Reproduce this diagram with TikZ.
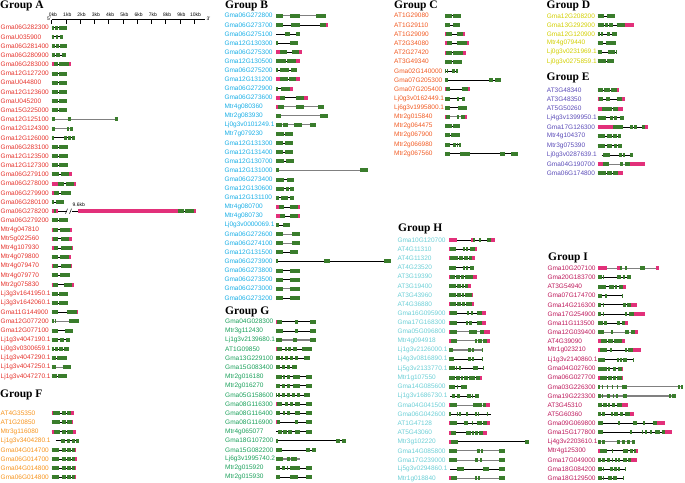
\documentclass[tikz,border=0pt]{standalone}
\usepackage{fontspec}
\setmainfont{Liberation Serif}
\setsansfont{Liberation Sans}
\definecolor{cA}{HTML}{E5322B}
\definecolor{cB}{HTML}{1AAFE6}
\definecolor{cC}{HTML}{F15A22}
\definecolor{cD}{HTML}{D2CF00}
\definecolor{cE}{HTML}{5B4CB8}
\definecolor{cF}{HTML}{F7941D}
\definecolor{cG}{HTML}{1AA05A}
\definecolor{cH}{HTML}{6CCFD6}
\definecolor{cI}{HTML}{BE1A5C}
\definecolor{exg}{HTML}{3A7D2C}
\definecolor{utr}{HTML}{E2307A}
\tikzset{
 gsL/.style={line width=0.6pt, black},
 gsG/.style={line width=1.1pt, black!50},
 gsE/.style={line width=4pt, exg},
 gsU/.style={line width=4pt, utr},
 lbl/.style={anchor=west, inner sep=0pt, font=\sffamily\fontsize{6.5}{7}\selectfont},
 ttl/.style={anchor=west, inner sep=0pt, font=\rmfamily\bfseries\fontsize{11.5}{12}\selectfont},
 tiny/.style={inner sep=0pt, font=\sffamily\fontsize{5}{5}\selectfont},
}
\newcommand\seg[3]{%
 \if#1L\draw[gsL] (\GX+#2,\YY)--(\GX+#3,\YY);\fi
 \if#1G\draw[gsG] (\GX+#2,\YY)--(\GX+#3,\YY);\fi
 \if#1E\draw[gsE] (\GX+#2,\YY)--(\GX+#3,\YY);\fi
 \if#1U\draw[gsU] (\GX+#2,\YY)--(\GX+#3,\YY);\fi}
\newcommand\G[2]{\node[lbl,text=\GC] at (\LX,\YY) {#1};%
 \foreach \t/\a/\b in {#2}{\seg\t\a\b}%
 \pgfmathsetmacro\YY{\YY+\DY}}
\newcommand\grp[5]{\def\LX{#1}\def\GX{#2}\def\YY{#3}\def\DY{#4}\def\GC{#5}}
\begin{document}
\begin{tikzpicture}[x=1pt,y=-1pt]
\useasboundingbox (0,0) rectangle (685,482);
% titles
\node[ttl] (tA) at (0,6) {Group A};
\node[ttl] (tB) at (225,5.5) {Group B};
\node[ttl] (tC) at (394,5.5) {Group C};
\node[ttl] (tD) at (546.5,5.5) {Group D};
\node[ttl] (tE) at (546.5,78) {Group E};
\node[ttl] (tF) at (0,395) {Group F};
\node[ttl] (tG) at (225,311.5) {Group G};
\node[ttl] (tH) at (398,228.5) {Group H};
\node[ttl] (tI) at (548,257.5) {Group I};
% ruler
\draw[line width=0.6pt] (51.7,19.5) -- (205,19.5);
\foreach \k in {0,...,10}{
 \draw[line width=0.6pt] (51.7+14.26*\k,19.5) -- ++(0,4);
 \node[tiny] at (53+14.26*\k,14.8) {\k kb};}
\node[tiny,anchor=east] (p5) at (51.2,19) {5'};
\node[tiny,anchor=west] (p3) at (206.5,19) {3'};
% Group A
\grp{0.5}{51.7}{27.6}{9.18}{cA}
\G{Gma06G282300}{L/0/15,E/0/2.5,E/3.5/6.3,E/7.5/15}
\G{GmaU035900}{L/0/11.7,E/0/2,E/4/6.5,E/8/11.7}
\G{Gma06G281400}{L/0/15,E/0/3,E/4/7,E/8/15}
\G{Gma06G280900}{L/0/14.5,E/0/3,E/4.5/8,E/10/14.5}
\G{Gma06G283000}{L/0/19,U/0/2,E/2/6,E/7/17,U/17/19}
\G{Gma12G127200}{L/0/15,E/0/6,E/7/15}
\G{GmaU044800}{L/0/15,E/0/6,E/7/15}
\G{Gma12G123600}{L/0/15,E/0/6,E/7/15}
\G{GmaU045200}{L/0/15,E/0/6,E/7/15}
\G{Gma15G225000}{L/0/15,E/0/6,E/7/15}
\G{Gma12G125100}{G/0/66,E/0/3,E/16/19,E/63/66}
\G{Gma12G124300}{G/0/21,E/0/3,E/15.5/17.5,E/18.5/21}
\G{Gma12G126000}{L/0/23.3,E/0/2.7,E/12.7/15.3,E/16.7/19.3,E/20.7/23.3}
\G{Gma06G283100}{L/0/16,E/0/6,E/7.5/16}
\G{Gma12G123500}{L/0/16,E/0/6,E/7.5/16}
\G{Gma12G127300}{L/0/16,E/0/6,E/7.5/16}
\G{Gma06G279100}{L/0/20,E/0/7.5,E/9/17.7,U/17.7/20}
\G{Gma06G278000}{L/0/24.3,U/0/6,E/6/12.5,E/14/22.7,U/22.7/24.3}
\G{Gma06G279900}{L/0/19.3,U/0/2,E/2/7.5,E/9/19.3}
\G{Gma06G280100}{L/0/12.7,E/0/2.7,E/4/12.7}
\coordinate (brk) at (68.5,\YY);
\G{Gma06G278200}{L/0/15,L/20.3/144,U/0/2,E/2/4.3,U/4.3/6.7,U/26.7/126,E/126/132,E/133/142,U/142/144}
\draw[line width=0.5pt] ([xshift=-3pt,yshift=-2.5pt]brk) -- ([xshift=-1pt,yshift=2.5pt]brk);
\draw[line width=0.5pt] ([xshift=1pt,yshift=-2.5pt]brk) -- ([xshift=3pt,yshift=2.5pt]brk);
\node[tiny,anchor=west] (kb96) at ([xshift=4pt,yshift=6pt]brk) {9.6kb};
\G{Gma06G279200}{L/0/16,E/0/6,E/7.5/16}
\G{Mtr4g047810}{L/0/20,U/0/1.2,E/1.2/6,E/8.7/18.7,U/18.7/20}
\G{Mtr5g022560}{L/0/20,U/0/1,E/1/6.7,E/9.3/17.7,U/17.7/20}
\G{Mtr4g107930}{L/0/21,U/0/2,E/2/6.7,E/9.3/20,U/20/21}
\G{Mtr4g079800}{L/0/19,E/0/6,E/8.7/17.7,U/17.7/19}
\G{Mtr4g079470}{L/0/20.3,U/0/1,E/1/6.7,E/9.3/19.3,U/19.3/20.3}
\G{Mtr4g079770}{L/0/18.7,E/0/6,E/8.7/18.7}
\G{Mtr2g075830}{L/0/22,U/0/1,E/1/6,E/12.7/20,U/20/22}
\G{Lj3g3v1641950.1}{L/0/16,E/0/6,E/7.3/16}
\G{Lj3g3v1642060.1}{L/0/16,E/0/6,E/7/16}
\G{Gma11G144900}{L/0/26.7,E/0/6.7,E/15.3/25.3,U/25.3/26.7}
\G{Gma12G077200}{G/0/27.7,E/0/2,E/3/4,E/17.7/27.7}
\G{Gma12G077100}{L/0/21,E/0/6,E/13.3/21}
\G{Lj1g3v4047190.1}{L/0/18.7,E/0/6.7,E/8/12.7,E/14.3/18.7}
\G{Lj0g3v0300659.1}{L/0/17,E/0/2.7,E/3.7/6.5,E/7.5/11,E/12.7/17}
\G{Lj1g3v4047290.1}{L/0/15.3,E/0/4.3,E/5.7/15.3}
\G{Lj1g3v4047250.1}{G/0/19.3,E/0/4.3,E/11/19.3}
\G{Lj1g3v4047270.1}{L/0/15.3,E/0/5,E/6/15.3}
% Group F
\grp{0.5}{51.7}{413.3}{9.14}{cF}
\G{AT4G35350}{L/0/22,U/0/1,E/1/8.7,E/10/14,E/15.3/19.3,U/19.3/22}
\G{AT1G20850}{L/0/21,E/0/8.7,E/10/14,E/15.3/20,U/20/21}
\G{Mtr3g116080}{L/0/24.3,U/0/2,E/2/8.7,E/10/14.3,E/15.3/21,U/21/24.3}
\G{Lj1g3v3404280.1}{L/4/27,E/9/13.3,E/15.7/18,E/20.3/23,E/24.3/27}
\G{Gma04G014700}{L/0/24.3,E/0/7.7,E/10/14.3,E/15.7/19,E/20/23,U/23/24.3}
\G{Gma06G014700}{L/0/25,E/0/7.7,E/10/14.3,E/15.7/19,E/20/23.3,U/23.3/25}
\G{Gma04G014800}{L/0/24.3,E/0/7.7,E/10/14.3,E/15.7/19,E/20/23,U/23/24.3}
\G{Gma06G014800}{L/0/24.7,E/0/7.7,E/10/14.3,E/15.7/19,E/20/23.3,U/23.3/24.7}
% Group B
\grp{224.3}{276}{15.7}{9.1}{cB}
\G{Gma06G272800}{G/0/50,E/0/6.7,E/14/24,E/40/50}
\G{Gma06G273700}{L/0/52,E/0/6.7,E/15/24,E/44/50,U/50/52}
\G{Gma06G275100}{L/0/24,E/9/14,E/20/24}
\G{Gma12G130300}{L/0/22,E/0/2,E/14/22}
\G{Gma06G275300}{L/0/26,U/0/4,E/4/11,E/16/23,U/23/26}
\G{Gma12G130500}{L/0/24,E/0/10,E/11/20,U/20/24}
\G{Gma06G275200}{L/0/21,E/0/2,E/4/13,E/15/21}
\G{Gma12G131200}{L/0/24,U/0/4,E/4/12,E/13/20,U/20/24}
\G{Gma06G272900}{L/0/17,E/0/2,E/5/14,U/14/17}
\G{Gma06G273600}{L/0/32,U/0/4,E/4/9,E/20/28,U/28/32}
\G{Mtr4g080360}{G/0/48,U/0/2,E/2/8,E/20/28,E/42/48}
\G{Mtr2g083930}{G/0/52,E/0/5,E/44/52}
\G{Lj0g3v0101249.1}{G/0/40,E/0/6,E/7/12,E/18/26,E/34/40}
\G{Mtr7g079230}{L/0/17,E/0/8,E/9/17}
\G{Gma12G131300}{L/0/17,E/0/7,E/9/17}
\G{Gma12G131400}{L/0/17,E/0/7,E/9/17}
\G{Gma12G130700}{L/0/18,E/0/8,E/10/18}
\G{Gma12G131000}{G/0/92,E/0/3,E/84/92}
\G{Gma06G273400}{L/0/18,E/0/8,E/11/18}
\G{Gma12G130600}{L/0/18,E/0/8,E/10/13,E/14/18}
\G{Gma12G131100}{L/0/18,E/0/3,E/5/12,E/14/18}
\G{Mtr4g080700}{L/0/24,U/0/3,E/3/8,E/14/22,U/22/24}
\G{Mtr4g080730}{L/0/24,U/0/4,E/4/9,E/14/22,U/22/24}
\G{Lj0g3v0000069.1}{L/0/14,E/0/3,E/7/14}
\G{Gma06G272600}{G/0/24,E/0/7,E/16/24}
\G{Gma06G274100}{G/0/24,E/0/7,E/16/24}
\G{Gma12G131500}{L/0/22,E/0/7,E/14/22}
\G{Gma06G273900}{L/0/115,E/0/2,E/48/54,E/108/115}
\G{Gma06G273800}{L/0/24,E/0/7,E/14/24}
\G{Gma06G273500}{L/0/24,E/0/7,E/14/24}
\G{Gma06G273000}{G/0/24,E/0/7,E/14/24}
\G{Gma06G273200}{L/0/24,E/0/7,E/14/24}
% Group C
\grp{394}{445}{15.7}{9.2}{cC}
\G{AT1G29080}{L/0/15.7,E/0/6.7,E/8.3/15.7}
\G{AT1G29110}{L/0/15,E/0/5,E/8.3/15}
\G{AT1G29090}{L/0/20,U/0/1,E/1/6.7,E/11.7/18.3,U/18.3/20}
\G{AT2G34080}{L/0/24.3,U/0/1.7,E/1.7/6.7,E/11.7/21.7,U/21.7/24.3}
\G{AT2G27420}{L/0/21,U/0/1,E/1/6.7,E/8.3/18.3,U/18.3/21}
\G{AT3G49340}{L/0/16.7,E/0/6.7,E/8.3/16.7}
\G{Gma02G140000}{L/0/13.3,E/0/1,E/2/3,E/6.7/10,E/11/13.3}
\G{Gma07G205300}{L/0/56,E/0/1.7,E/2.3/3,E/44/48,E/50/56}
\G{Gma07G205400}{L/0/25,U/0/1,E/1/5,E/16.7/23.3,U/23.3/25}
\G{Lj0g3v0162449.1}{L/0/20,E/0/5,E/11.7/14.3,E/16.7/20}
\G{Lj6g3v1995800.1}{L/0/21.7,E/0/5,E/13.3/21.7}
\G{Mtr2g015840}{G/0/21.7,U/0/1,E/1/5,E/11.7/14.3,E/15.7/20,U/20/21.7}
\G{Mtr2g064475}{L/0/15,E/0/6.7,E/8.3/15}
\G{Mtr2g067900}{L/0/15,E/0/5,E/6/15}
\G{Mtr2g066980}{L/0/15.7,E/0/5,E/8.3/11,E/11.7/12.7,E/13.7/15.7}
\G{Mtr2g067560}{L/0/73,E/0/5,E/15/25,E/55/60,E/66/73}
% Group D
\grp{546.7}{597.7}{16}{9.07}{cD}
\G{Gma12G208200}{L/0/17.3,E/0/6.7,E/9.7/17.3}
\G{Gma13G292900}{L/0/36,E/0/6,E/7.5/10,E/11.5/15,E/19/27,U/27/36}
\G{Gma12G120900}{L/0/19,E/0/2.3,E/3/5.7,E/9.7/12.3,E/14/19}
\G{Mtr4g079440}{L/0/18,E/0/5.7,E/8.3/18}
\G{Lj0g3v0231969.1}{L/0/18.3,E/0/4,E/10.7/17.3,E/17.8/18.3}
\G{Lj0g3v0275859.1}{L/0/16.7,E/0/8.3,E/9.7/16.7}
% Group E
\grp{546.7}{597.7}{90}{9.26}{cE}
\G{AT3G48340}{L/0/21.7,E/0/5.7,E/6.3/12,E/13.7/19.7,U/19.7/21.7}
\G{AT3G48350}{L/0/27.3,U/0/1.7,E/1.7/5.7,E/8.3/12.3,E/19/24,U/24/27.3}
\G{AT5G50260}{L/0/25,U/0/4,E/4/9,E/9.7/14,E/15/20.7,U/20.7/25}
\G{Lj4g3v1399950.1}{L/0/26.3,E/0/8.3,E/12.3/15,E/16.3/19.7,E/22.3/26.3}
\G{Gma17G126300}{L/0/50.7,U/0/15.7,E/15.7/25,E/32.3/35,E/36.3/39,E/44/47.3,U/47.3/50.7}
\G{Mtr4g104370}{L/0/23,E/0/7.3,E/9/14,E/15.7/19,E/20/23}
\G{Mtr3g075390}{L/0/24,E/0/7.3,E/9/14,E/16/19.3,E/20.3/24}
\G{Lj0g3v0287639.1}{L/4/35.7,E/5.7/12.3,E/21/24,E/25/27.3,E/32.3/35.7}
\G{Gma04G190700}{G/0/47.3,U/0/5.7,E/5.7/11.7,E/22.3/25,E/27.3/32.3,U/32.3/47.3}
\G{Gma06G174800}{L/0/25,E/0/8.3,E/9.7/14,E/15.7/20.7,U/20.7/25}
% Group G
\grp{225}{276}{321.7}{9.15}{cG}
\G{Gma04G028300}{L/0/40,U/0/1,E/1/5.7,E/19/22.3,E/34/40}
\G{Mtr3g112430}{L/0/40,E/0/7.3,E/19/22.3,E/34/40}
\G{Lj1g3v2139680.1}{G/0/40,E/0/5.7,E/17.3/21.3,E/34/40}
\G{AT1G09850}{L/0/36,U/0/1,E/1/5.7,E/9/11.3,E/12.3/14.7,E/16.7/20.7,E/26/36}
\G{Gma13G229100}{L/0/34,E/0/4,E/5/7.3,E/9/12.3,E/14/17.3,E/19/22.3,E/28/34}
\G{Gma15G083400}{L/0/20.7,E/0/4,E/5.7/9,E/10.7/14,E/15.7/20.7}
\G{Mtr2g016180}{L/0/36,E/0/5.7,E/7.3/9,E/10.7/14,E/16.7/24,E/30/36}
\G{Mtr2g016270}{L/0/36,E/0/4,E/5.7/9,E/10.7/14,E/16.7/24,E/30/36}
\G{Gma05G158600}{L/0/34,E/0/1.3,E/2.3/4,E/5.7/9,E/10.7/14,E/15.7/19,E/20.7/24,E/28/34}
\G{Gma08G116300}{L/0/36,U/0/1,E/1/5.7,E/9/12.3,E/14/17.3,E/19/24,E/30/36}
\G{Gma08G116400}{L/0/36,E/0/4,E/7.3/9,E/10.7/14,E/19/24,E/30/36}
\G{Gma08G116900}{L/0/36,U/0/1.3,E/1.3/4,E/19/22.3,E/30/36}
\G{Mtr4g065077}{L/0/36,E/2.3/5.7,E/7.3/10.7,E/12.3/15.7,E/19/24,E/30/36}
\G{Gma18G107200}{L/0/70,E/0/2.3,E/60/64,E/66/70}
\G{Gma15G082200}{L/0/40,E/0/5.7,E/30/34,E/36/40}
\G{Lj6g3v1995740.2}{G/0/24,E/0/6.7,E/10.7/14,E/14.7/20.7}
\G{Mtr2g015920}{L/0/36,E/0/4,E/5.7/9,E/10.7/12.3,E/14/24,E/30/36}
\G{Mtr2g015930}{L/0/36,E/0/4,E/14/22.3,E/30/36}
% Group H
\grp{397.3}{449}{240}{9.17}{cH}
\G{Gma10G120700}{L/0/46,U/0/8.3,U/22/24,E/24/25.7,E/30/31.7,E/38/42,U/42/46}
\G{AT4G11310}{L/0/27.7,U/0/1,E/1/7,E/13.7/15.7,E/17/19,E/21/26,U/26/27.7}
\G{AT4G11320}{L/0/26,U/0/1,E/1/9.3,E/10.3/14.3,E/15.3/18.7,E/19.7/22.7,U/22.7/26}
\G{AT4G23520}{L/0/25,E/0/7,E/13.7/16,E/17/19.3,E/21/25}
\G{AT3G19390}{L/0/28.3,U/0/1,E/1/6,E/7/11,E/12/15,E/16/24.3,U/24.3/28.3}
\G{AT3G19400}{L/0/21.7,E/0/7,E/7.7/11.7,E/12.7/15,E/16/19.3,U/19.3/21.7}
\G{AT3G43960}{L/0/23,E/0/7,E/7.7/11.7,E/12.7/15,E/16/22.7,U/22.7/23}
\G{AT4G36880}{L/0/25,U/0/1,E/1/7,E/7.7/11.7,E/12.7/16,E/17/22.7,U/22.7/25}
\G{Gma16G095900}{L/0/36.7,U/0/1,E/1/8.3,E/17.7/20.3,E/21.7/23.7,E/28.3/32.7,U/32.7/36.7}
\G{Gma17G168300}{L/0/36.7,U/0/1,E/1/8.3,E/17/19.3,E/20.3/22.7,E/27.7/32.7,U/32.7/36.7}
\G{Gma05G096800}{G/0/41,U/0/1,E/1/7.7,E/20.3/23.7,E/24.3/27.7,E/31/35,U/35/41}
\G{Mtr4g094918}{G/0/41,U/0/2,E/2/8.3,E/26/28.3,E/29.3/32.7,E/33.7/37.7,U/37.7/41}
\G{Lj1g3v2126000.1}{G/0/33.7,E/0/4.3,E/19.3/21.7,E/22.7/25,E/32.7/33.7}
\G{Lj4g3v0816890.1}{L/0/33.7,E/0/5,E/19.3/21.7,E/23/25,E/32.7/33.7}
\G{Lj5g3v2133770.1}{L/0/35,E/0/6,E/7/8.3,E/10/11.7,E/23.7/29.3,E/34.3/35}
\G{Mtr1g107550}{L/0/32.7,E/0/6,E/7/11,E/12/14.3,E/15.3/19.3,E/20.3/25.7,E/27/31,U/31/32.7}
\G{Gma14G085600}{L/0/17.7,E/0/6,E/7.7/8.3,E/11.7/13.7,E/14.3/17,E/17.3/17.7}
\G{Lj1g3v1686730.1}{L/1/30.3,E/2.7/6,E/7.7/11,E/17.7/21.7,E/22.7/24.3,E/26/30.3}
\G{Gma04G041500}{G/0/41,U/0/1,E/1/8.3,E/24.3/27.7,E/28.3/32.7,E/33.7/37,U/37/41}
\G{Gma06G042600}{L/0/42,E/0.3/1.7,E/7.7/9.3,E/10.3/11.7,E/17/19,E/26/27.7,E/28.7/30.3,E/37.7/39.3}
\G{AT1G47128}{L/0/41,U/0/1,E/1/7.7,E/15.3/19.3,E/22.7/24.3,E/27.7/32.7,E/33.7/37.7,U/37.7/41}
\G{AT5G43060}{L/0/37.7,U/0/2,E/2/7,E/17/21.7,E/23/25,E/26/29.3,E/30.3/34.3,U/34.3/37.7}
\G{Mtr3g102220}{L/0/80,U/0/2,E/2/9.3,E/76/80}
\G{Gma14G085800}{G/0/56,E/0/8.3,E/27.7/31,E/32/34.3,E/50/56}
\G{Gma17G239000}{G/0/56,E/0/8.3,E/26/29.3,E/31/33,E/50/56}
\G{Lj5g3v0294860.1}{L/1/56,E/8.3/15,E/34.3/40,E/50/56}
\G{Mtr1g018840}{G/0/56,U/0/2,E/2/8.3,E/26/27.7,E/28.7/31,E/50/56}
% Group I
\grp{547.3}{598.3}{268.3}{9.12}{cI}
\G{Gma10G207100}{G/0/61,U/0/8.3,U/19/21.7,E/21.7/23.3,E/27/28.7,E/41.7/46.7,U/57.3/61}
\G{Gma20G183700}{L/0/32.3,E/0/3.3,E/4.3/5.3,E/19/22.3,E/24.3/26.7,E/28.3/32.3}
\G{AT3G54940}{L/0/27.7,E/0/7.7,E/11/15.7,E/16.7/19,E/21/25,U/25/27.7}
\G{Gma07G174700}{L/0/24.3,E/0/3.3,E/7/8.7,E/23.7/24.3}
\G{Gma14G216300}{L/0/39,E/0/2.3,E/4.3/6,E/25/27.7,E/29/32.3,U/32.3/39}
\G{Gma17G254900}{L/0/46.7,E/0/2.3,E/4.3/6,E/26.7/28.3,E/31/35.7,U/35.7/46.7}
\G{Gma11G113500}{L/0/30,E/0/4.3,E/5.7/8.3,E/18.3/21.7,E/23.3/26.7,U/26.7/30}
\G{Gma12G039400}{G/0/40,E/0/5.7,E/12.7/14.3,E/26.7/31,E/32.3/36.7,U/36.7/40}
\G{AT4G39090}{L/0/26.7,U/0/2.3,E/2.3/8.3,E/10/14.3,E/15.7/23.3,U/23.3/26.7}
\G{Mtr1g023210}{L/0/42.3,U/0/1.7,E/1.7/9,E/11.7/13.3,E/26.7/29,E/30/35,U/35/42.3}
\G{Lj1g3v2140860.1}{L/0/35.7,E/0/6.7,E/18.3/21,E/21.7/23.3,E/24.3/28.3,E/35/35.7}
\G{Gma04G027600}{L/0/25,E/0/8.3,E/9.3/11.7,E/15/17.7,E/20/23.3,U/23.3/25}
\G{Gma06G027700}{L/0/25,U/0/1.7,E/1.7/8.3,E/9.3/13.3,E/14.3/17.7,E/19/23.3,U/23.3/25}
\G{Gma03G226300}{G/0/85,E/0/1.7,E/3.3/4.3,E/8.3/10,E/13.3/15,E/18.3/20,E/23.3/28.3,E/80/82,E/83/85}
\G{Gma19G223300}{G/0/77.3,E/0/2.3,E/3.7/5,E/8.3/11.7,E/14.3/16,E/17.7/19.3,E/24.3/28.3,E/70.7/72.3,E/74/77.3}
\G{AT3G45310}{L/0/29.3,E/0/3.3,E/4.3/8.3,E/9.3/11.7,E/13.3/16.7,E/18.3/23.3,U/23.3/29.3}
\G{AT5G60360}{L/0/35.7,E/0/2.3,E/3.3/6.7,E/12.3/15,E/16/20,E/21.7/25,E/26.7/31.7,U/31.7/35.7}
\G{Gma09G069800}{L/0/66.7,E/0/5,E/20/21.7,E/35/38.3,E/45/46.7,E/55/58.3,U/58.3/66.7}
\G{Gma15G177800}{L/0/73.3,E/0/5,E/31.7/33.3,E/43.3/45,E/46.7/49,E/51.7/53.3,E/56.7/61.7,E/63.3/66.7,U/66.7/73.3}
\G{Lj4g3v2203610.1}{G/0/36.7,E/0/2.3,E/3.3/6.7,E/18.3/21.7,E/23.3/26.7,E/28.3/31.7,E/33.3/36.7}
\G{Mtr4g125300}{L/0/40,U/0/1.7,E/1.7/8.3,E/13.3/15,E/25/30,E/31.7/35,E/36/38,U/38/40}
\G{Gma17G049000}{L/0/39,E/0/2.3,E/3.3/6.7,E/8.3/11.7,E/13.3/15,E/16.7/18.3,E/20/21.7,E/25/28.3,E/30/32.3,U/32.3/39}
\G{Gma18G084200}{L/0/26.7,E/0/3.3,E/4.3/5.7,E/11.7/15,E/16/18.3,E/20/21.7,E/26.3/26.7}
\G{Gma18G129500}{L/0/25,E/0/3.3,E/4.3/6,E/10/13.3,E/15/18.3,E/24.7/25}
\end{tikzpicture}
\end{document}
